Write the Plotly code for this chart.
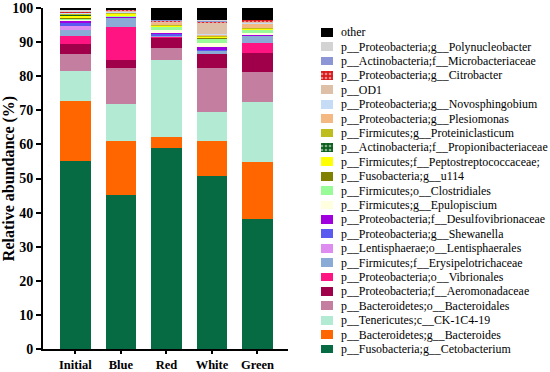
import plotly.graph_objects as go

# ---------------- data ----------------
categories = ["Initial", "Blue", "Red", "White", "Green"]

cetobacterium = [55.0, 45.2, 58.9, 50.7, 38.2]
bacteroides = [17.7, 15.7, 3.3, 10.3, 16.6]
ck_1c4_19 = [8.9, 10.9, 22.6, 8.6, 17.7]
bacteroidales = [4.9, 10.5, 3.6, 12.9, 8.8]
aeromonadaceae = [2.9, 2.5, 2.9, 4.0, 5.6]
vibrionales = [2.5, 9.5, 0.2, 0.0, 2.9]
erysipelotrichaceae = [1.6, 2.9, 0.4, 1.0, 2.0]
lentisphaerales = [1.2, 0.05, 0.1, 0.05, 0.05]
shewanella = [1.0, 0.05, 0.4, 0.05, 0.05]
desulfovibrionaceae = [0.5, 0.1, 0.3, 1.0, 0.1]
epulopiscium = [0.3, 0.1, 0.9, 1.2, 0.6]
clostridiales = [0.3, 0.3, 0.9, 1.4, 1.0]
u114 = [0.5, 0.05, 0.1, 0.05, 0.05]
peptostreptococcaceae = [0.4, 0.5, 0.3, 0.4, 0.2]
propionibacteriaceae = [0.3, 0.05, 0.1, 0.05, 0.05]
proteiniclasticum = [0.4, 0.2, 0.2, 0.1, 0.1]
plesiomonas = [0.1, 0.2, 0.4, 0.4, 1.5]
novosphingobium = [0.2, 0.3, 0.1, 0.1, 0.1]
od1 = [0.1, 0.1, 0.4, 3.5, 0.2]
citrobacter = [0.1, 0.2, 0.1, 0.1, 0.8]
microbacteriaceae = [0.1, 0.0, 0.3, 0.4, 0.0]
polynucleobacter = [0.3, 0.0, 0.0, 0.1, 0.0]
other = [0.7, 0.6, 3.5, 3.6, 3.4]

# bottom -> top
series = [
    ("p__Fusobacteria;g__Cetobacterium", cetobacterium),
    ("p__Bacteroidetes;g__Bacteroides", bacteroides),
    ("p__Tenericutes;c__CK-1C4-19", ck_1c4_19),
    ("p__Bacteroidetes;o__Bacteroidales", bacteroidales),
    ("p__Proteobacteria;f__Aeromonadaceae", aeromonadaceae),
    ("p__Proteobacteria;o__Vibrionales", vibrionales),
    ("p__Firmicutes;f__Erysipelotrichaceae", erysipelotrichaceae),
    ("p__Lentisphaerae;o__Lentisphaerales", lentisphaerales),
    ("p__Proteobacteria;g__Shewanella", shewanella),
    ("p__Proteobacteria;f__Desulfovibrionaceae", desulfovibrionaceae),
    ("p__Firmicutes;g__Epulopiscium", epulopiscium),
    ("p__Firmicutes;o__Clostridiales", clostridiales),
    ("p__Fusobacteria;g__u114", u114),
    ("p__Firmicutes;f__Peptostreptococcaceae;", peptostreptococcaceae),
    ("p__Actinobacteria;f__Propionibacteriaceae", propionibacteriaceae),
    ("p__Firmicutes;g__Proteiniclasticum", proteiniclasticum),
    ("p__Proteobacteria;g__Plesiomonas", plesiomonas),
    ("p__Proteobacteria;g__Novosphingobium", novosphingobium),
    ("p__OD1", od1),
    ("p__Proteobacteria;g__Citrobacter", citrobacter),
    ("p__Actinobacteria;f__Microbacteriaceae", microbacteriaceae),
    ("p__Proteobacteria;g__Polynucleobacter", polynucleobacter),
    ("other", other),
]

# ---------------- styles ----------------
colors = [
    "#066B43", "#FF6600", "#B3EAD4", "#C47FA0", "#A0004A", "#FF1482",
    "#8AABD6", "#DE8CF0", "#5A5AF0", "#A000E0", "#FFFFE0", "#98FB98",
    "#808000", "#FFFF00", "#0B5E1C", "#BDBD1E", "#F4B983", "#C6DBF5",
    "#DEC0A8", "#D7191C", "#8C96D6", "#D3D3D3", "#000000",
]
patterns = [""] * len(series)
pat_fg = ["#ffffff"] * len(series)
patterns[19] = "."  # Citrobacter
pat_fg[19] = "#ffffff"
patterns[14] = "."  # Propionibacteriaceae
pat_fg[14] = "#3C8A4A"

SERIF = "Liberation Serif"

fig = go.Figure()

for i, (name, vals) in enumerate(series):
    pat = dict(shape=patterns[i], fgcolor=pat_fg[i], size=4, solidity=0.35) if patterns[i] else None
    fig.add_trace(go.Bar(
        x=categories, y=vals, name=name, width=0.67,
        marker=dict(color=colors[i], line=dict(width=0), pattern=pat),
        showlegend=False, xaxis="x", yaxis="y",
    ))

# custom legend (swatches drawn as small bars on hidden overlay axes)
n = len(series)
fig.add_trace(go.Bar(
    orientation="h",
    y=list(range(n)), x=[12] * n, base=[321] * n, width=0.62,
    marker=dict(color=colors, line=dict(width=0),
                pattern=dict(shape=patterns, fgcolor=pat_fg, size=4, solidity=0.35)),
    xaxis="x2", yaxis="y2", showlegend=False, hoverinfo="skip",
))
for i, (name, _) in enumerate(series):
    fig.add_annotation(
        x=339, y=i, xref="x2", yref="y2", text=name, showarrow=False,
        xanchor="left", yanchor="middle",
        font=dict(family=SERIF, size=11.9, color="black"),
    )

W, H = 550, 372
ml, mr, mt, mb = 43, 3, 8, 15
pw = W - ml - mr
ph = H - mt - mb
x_end = (288 - ml) / pw
y_start = (H - mb - 349) / ph
step = 14.4

fig.update_layout(
    width=W, height=H,
    margin=dict(l=ml, r=mr, t=mt, b=mb, autoexpand=False),
    barmode="stack",
    plot_bgcolor="white", paper_bgcolor="white",
    font=dict(family=SERIF),
    xaxis=dict(
        domain=[0, x_end], range=[-0.71, 4.67], automargin=False,
        showline=True, linecolor="black", linewidth=2,
        ticks="outside", ticklen=3, tickwidth=2, tickcolor="black",
        tickfont=dict(family=SERIF, size=12.5, color="black", weight="bold"),
        showgrid=False, zeroline=False,
    ),
    yaxis=dict(
        domain=[y_start, 1], range=[0, 100], dtick=10, automargin=False,
        showline=True, linecolor="black", linewidth=2,
        ticks="outside", ticklen=5, tickwidth=2, tickcolor="black",
        tickfont=dict(family=SERIF, size=14, color="black", weight="bold"),
        title=dict(text="Relative abundance (%)", standoff=3,
                   font=dict(family=SERIF, size=16, color="black", weight="bold")),
        showgrid=False, zeroline=False,
    ),
    xaxis2=dict(domain=[x_end, 1], range=[288, W - mr], visible=False,
                anchor="y2", fixedrange=True, automargin=False),
    yaxis2=dict(domain=[0, 1], range=[-(H - mb - 349) / step, (349 - mt) / step],
                visible=False, anchor="x2", fixedrange=True, automargin=False),
)

fig.write_html("out.html", config={"displayModeBar": False},
               post_script="document.body.style.margin='0';")
